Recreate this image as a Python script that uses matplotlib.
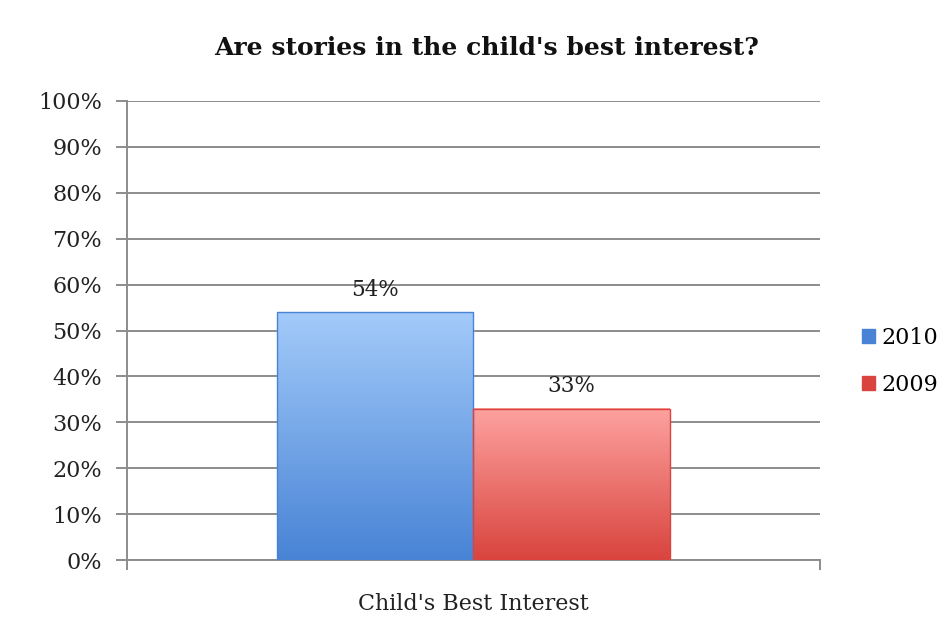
import numpy as np
import matplotlib.pyplot as plt
from matplotlib.colors import LinearSegmentedColormap
import matplotlib.patches as mpatches

category = "Child's Best Interest"
years = ["2010", "2009"]
shares = [0.54, 0.33]
value_labels = ["54%", "33%"]
yticks = [i / 10 for i in range(11)]
ytick_labels = ["%d%%" % (i * 10) for i in range(11)]

# top / bottom shade of each bar
shades = {"2010": ("#a3cbfa", "#4883d5"), "2009": ("#fda29f", "#d9443e")}

plt.rcParams['font.family'] = ['DejaVu Serif']

fig = plt.figure(figsize=(9.51, 6.42), dpi=100)
ax = fig.add_axes([0.1335, 0.1277, 0.7285, 0.715])

width = 0.284
offsets = [-width / 2, width / 2]

for year, val, lab, off in zip(years, shares, value_labels, offsets):
    top, bottom = shades[year]
    cmap = LinearSegmentedColormap.from_list(year, [bottom, top])
    x0, x1 = off - width / 2, off + width / 2
    grad = np.linspace(0, 1, 256).reshape(-1, 1)
    ax.imshow(grad, cmap=cmap, origin='lower', aspect='auto',
              extent=(x0, x1, 0, val), zorder=3)
    rect = mpatches.Rectangle((x0, 0), width, val, fill=False,
                              edgecolor=bottom, linewidth=1.0, zorder=4)
    ax.add_patch(rect)
    ax.text(off, val + 0.025, lab, ha='center', va='bottom', fontsize=15.5, color='#222222')

ax.set_xlim(-0.5, 0.5)
ax.set_ylim(0, 1)
ax.set_yticks(yticks)
ax.set_yticklabels(ytick_labels, fontsize=16, color='#222222')
ax.yaxis.grid(True, color='#8c8c8c', linewidth=1.4)
ax.set_axisbelow(True)
ax.tick_params(axis='y', length=8, width=1.4, color='#8c8c8c', pad=10)

ax.set_xticks([-0.5, 0.5], minor=False)
ax.set_xticklabels(["", ""])
ax.tick_params(axis='x', length=7, width=1.4, color='#8c8c8c', direction='out')
ax.text(0, -0.072, category, ha='center', va='top', fontsize=16,
        color='#222222', transform=ax.transData)

for side in ['top', 'right']:
    ax.spines[side].set_visible(False)
for side in ['left', 'bottom']:
    ax.spines[side].set_color('#8c8c8c')
    ax.spines[side].set_linewidth(1.4)

fig.text(0.512, 0.925, "Are stories in the child's best interest?", ha='center',
         va='center', fontsize=18, fontweight='bold', color='#111111')

handles = [mpatches.Patch(facecolor=shades[y][1], edgecolor=shades[y][1]) for y in years]
fig.legend(handles, years, loc='center left', bbox_to_anchor=(0.906, 0.437),
           frameon=False, fontsize=16, handlelength=0.6, handleheight=0.6,
           handletextpad=0.3, labelspacing=1.15, borderpad=0, borderaxespad=0)

fig.savefig("out.png", dpi=100, facecolor='white')
